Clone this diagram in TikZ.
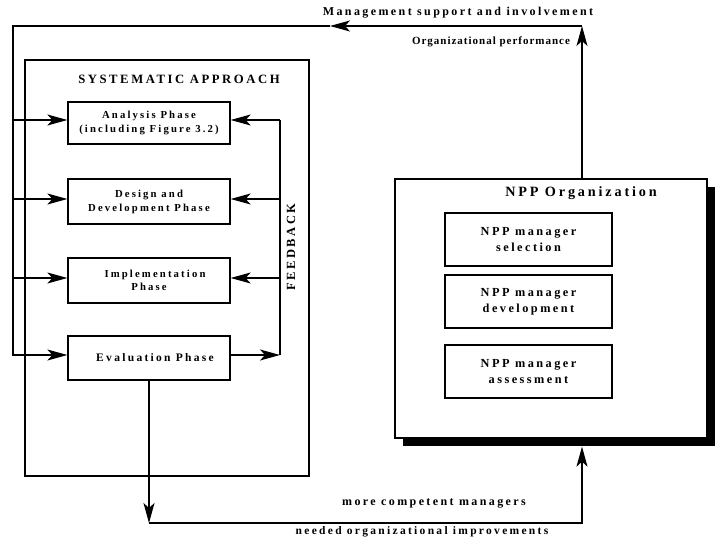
\documentclass[tikz,border=0pt]{standalone}
\usepackage{fontspec}
\setmainfont{Liberation Serif}[LetterSpace=20]
\usetikzlibrary{arrows.meta,shadows}
\begin{document}
\begin{tikzpicture}[x=1pt,y=-1pt,line width=1.3pt,
  arr/.style={-{Stealth[length=20pt,width=11pt,inset=5pt]}},
  phase/.style={draw,rectangle,minimum width=162pt,align=center,inner sep=0pt,
    font=\fontsize{10.7}{14}\selectfont\bfseries},
  mgr/.style={draw,rectangle,minimum width=167pt,minimum height=53pt,align=center,inner sep=0pt,
    font=\fontsize{12.3}{16}\selectfont\bfseries},
  lab/.style={inner sep=0pt,font=\fontsize{12}{14}\selectfont\bfseries}]
\useasboundingbox (0,0) rectangle (721,553);
% systematic approach
\node[draw,rectangle,minimum width=284pt,minimum height=416pt,inner sep=0pt] (sys) at (167,268) {};
\node[lab,font=\fontsize{12.7}{15}\selectfont\bfseries] (systitle) at (179,79) {SYSTEMATIC APPROACH};
\node[phase,minimum height=42pt] (analysis) at (149,123) {Analysis Phase\\(including Figure 3.2)};
\node[phase,minimum height=45pt] (design) at (149,201.5) {Design and\\Development Phase};
\node[phase,minimum height=45pt,font=\fontsize{10.7}{13}\selectfont\bfseries] (impl) at (149,280.5) {\hspace*{12pt}Implementation\\Phase};
\node[phase,minimum height=44pt,font=\fontsize{11.5}{14}\selectfont\bfseries] (eval) at (149,358) {\hspace*{12pt}Evaluation Phase};
\node[lab,font=\fontsize{12.5}{14}\selectfont\bfseries,rotate=90] (fbtext) at (291,247) {FEEDBACK};
% NPP organization
\node[draw,rectangle,fill=white,minimum width=312pt,minimum height=259pt,inner sep=0pt,
  drop shadow={shadow xshift=8pt,shadow yshift=-8pt,fill=black,opacity=1}] (npp) at (551,308.5) {};
\node[lab,font=\fontsize{14.2}{16}\selectfont\bfseries] (npptitle) at (581,193) {NPP Organization};
\node[mgr] (sel) at (528.5,239.5) {NPP manager\\selection};
\node[mgr] (dev) at (528.5,301.5) {NPP manager\\development};
\node[mgr] (ass) at (528.5,371.5) {NPP manager\\assessment};
% labels
\node[lab] (mgmt) at (458,13) {Management support and involvement};
\node[lab,font=\fontsize{11}{13}\selectfont\bfseries\addfontfeatures{LetterSpace=9}] (perf) at (491,42) {Organizational performance};
\node[lab] (comp) at (434,503) {more competent managers};
\node[lab,font=\fontsize{11.5}{14}\selectfont\bfseries] (impr) at (422,532) {needed organizational improvements};
% coordinates
\coordinate (tr) at (582,26);
\coordinate (mid) at (330,26);
\coordinate (tl) at (13,26);
\coordinate (fb) at (280,0);
\coordinate (bot) at (149,523);
\coordinate (aw) at ([yshift=3pt]analysis.west);
\coordinate (dw) at ([yshift=2.5pt]design.west);
\coordinate (iw) at ([yshift=2.5pt]impl.west);
\coordinate (ew) at ([yshift=3pt]eval.west);
\coordinate (ae) at ([yshift=3pt]analysis.east);
\coordinate (de) at ([yshift=2.5pt]design.east);
\coordinate (ie) at ([yshift=2.5pt]impl.east);
\coordinate (ee) at ([yshift=3pt]eval.east);
% outer loop
\draw[arr] ([xshift=31pt]npp.north) -- (tr);
\draw[arr] (tr) -- (mid);
\draw[arr] (mid) -- (tl) |- (ew);
\draw[arr] (tl |- aw) -- (aw);
\draw[arr] (tl |- dw) -- (dw);
\draw[arr] (tl |- iw) -- (iw);
% feedback
\draw[arr] (ee) -- (fb |- ee);
\draw (fb |- ee) -- (fb |- ae);
\draw[arr] (fb |- ae) -- (ae);
\draw[arr] (fb |- de) -- (de);
\draw[arr] (fb |- ie) -- (ie);
% bottom loop
\draw[arr] (eval.south) -- (bot);
\draw[arr] (bot) -| ([xshift=31pt,yshift=-8pt]npp.south);
\end{tikzpicture}
\end{document}
